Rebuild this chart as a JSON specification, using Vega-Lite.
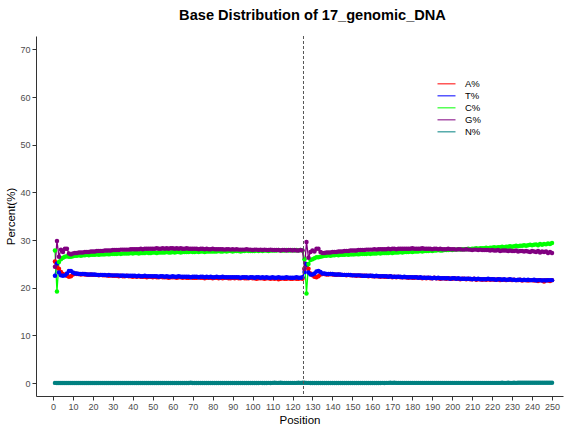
{
"$schema":"https://vega.github.io/schema/vega-lite/v6.json",
"autosize":{"type":"none"},
"padding":{"left":36,"top":36,"right":13,"bottom":36},
"width":527,"height":360,
"title":{"text":"Base Distribution of 17_genomic_DNA","fontSize":14.6,"fontWeight":"bold","anchor":"middle","offset":12.5,"color":"#000","dx":13},
"config":{"view":{"stroke":null},"font":"Liberation Sans",
"axis":{"grid":false,"domainColor":"#333","tickColor":"#333","labelColor":"#4d4d4d","labelFontSize":9,"titleFontSize":11.5,"titleFontWeight":"normal","titleColor":"#000","tickSize":4,"labelPadding":2,"labelOverlap":false}},
"datasets":{"bases":[
{"p":1,"b":"A%","v":25.5},{"p":2,"b":"A%","v":24.3},{"p":3,"b":"A%","v":24.0},{"p":4,"b":"A%","v":23.3},{"p":5,"b":"A%","v":22.9},{"p":6,"b":"A%","v":22.7},{"p":7,"b":"A%","v":22.5},{"p":8,"b":"A%","v":22.3},{"p":9,"b":"A%","v":22.4},{"p":10,"b":"A%","v":22.8},
{"p":11,"b":"A%","v":23.0},{"p":12,"b":"A%","v":22.9},{"p":13,"b":"A%","v":22.9},{"p":14,"b":"A%","v":22.8},{"p":15,"b":"A%","v":22.9},{"p":16,"b":"A%","v":22.8},{"p":17,"b":"A%","v":22.8},{"p":18,"b":"A%","v":22.7},{"p":19,"b":"A%","v":22.8},{"p":20,"b":"A%","v":22.7},
{"p":21,"b":"A%","v":22.7},{"p":22,"b":"A%","v":22.7},{"p":23,"b":"A%","v":22.6},{"p":24,"b":"A%","v":22.7},{"p":25,"b":"A%","v":22.6},{"p":26,"b":"A%","v":22.6},{"p":27,"b":"A%","v":22.6},{"p":28,"b":"A%","v":22.5},{"p":29,"b":"A%","v":22.6},{"p":30,"b":"A%","v":22.5},
{"p":31,"b":"A%","v":22.5},{"p":32,"b":"A%","v":22.5},{"p":33,"b":"A%","v":22.4},{"p":34,"b":"A%","v":22.5},{"p":35,"b":"A%","v":22.4},{"p":36,"b":"A%","v":22.4},{"p":37,"b":"A%","v":22.5},{"p":38,"b":"A%","v":22.4},{"p":39,"b":"A%","v":22.4},{"p":40,"b":"A%","v":22.3},
{"p":41,"b":"A%","v":22.4},{"p":42,"b":"A%","v":22.3},{"p":43,"b":"A%","v":22.4},{"p":44,"b":"A%","v":22.3},{"p":45,"b":"A%","v":22.3},{"p":46,"b":"A%","v":22.3},{"p":47,"b":"A%","v":22.2},{"p":48,"b":"A%","v":22.3},{"p":49,"b":"A%","v":22.3},{"p":50,"b":"A%","v":22.2},
{"p":51,"b":"A%","v":22.3},{"p":52,"b":"A%","v":22.2},{"p":53,"b":"A%","v":22.2},{"p":54,"b":"A%","v":22.3},{"p":55,"b":"A%","v":22.2},{"p":56,"b":"A%","v":22.2},{"p":57,"b":"A%","v":22.2},{"p":58,"b":"A%","v":22.1},{"p":59,"b":"A%","v":22.2},{"p":60,"b":"A%","v":22.2},
{"p":61,"b":"A%","v":22.2},{"p":62,"b":"A%","v":22.1},{"p":63,"b":"A%","v":22.2},{"p":64,"b":"A%","v":22.2},{"p":65,"b":"A%","v":22.1},{"p":66,"b":"A%","v":22.2},{"p":67,"b":"A%","v":22.1},{"p":68,"b":"A%","v":22.1},{"p":69,"b":"A%","v":22.2},{"p":70,"b":"A%","v":22.1},
{"p":71,"b":"A%","v":22.1},{"p":72,"b":"A%","v":22.1},{"p":73,"b":"A%","v":22.2},{"p":74,"b":"A%","v":22.1},{"p":75,"b":"A%","v":22.1},{"p":76,"b":"A%","v":22.0},{"p":77,"b":"A%","v":22.1},{"p":78,"b":"A%","v":22.1},{"p":79,"b":"A%","v":22.1},{"p":80,"b":"A%","v":22.0},
{"p":81,"b":"A%","v":22.1},{"p":82,"b":"A%","v":22.1},{"p":83,"b":"A%","v":22.0},{"p":84,"b":"A%","v":22.1},{"p":85,"b":"A%","v":22.0},{"p":86,"b":"A%","v":22.1},{"p":87,"b":"A%","v":22.1},{"p":88,"b":"A%","v":22.0},{"p":89,"b":"A%","v":22.0},{"p":90,"b":"A%","v":22.1},
{"p":91,"b":"A%","v":22.0},{"p":92,"b":"A%","v":22.1},{"p":93,"b":"A%","v":22.0},{"p":94,"b":"A%","v":22.0},{"p":95,"b":"A%","v":22.1},{"p":96,"b":"A%","v":22.0},{"p":97,"b":"A%","v":22.0},{"p":98,"b":"A%","v":22.0},{"p":99,"b":"A%","v":22.1},{"p":100,"b":"A%","v":22.0},
{"p":101,"b":"A%","v":22.0},{"p":102,"b":"A%","v":21.9},{"p":103,"b":"A%","v":22.0},{"p":104,"b":"A%","v":22.0},{"p":105,"b":"A%","v":22.0},{"p":106,"b":"A%","v":21.9},{"p":107,"b":"A%","v":22.0},{"p":108,"b":"A%","v":22.0},{"p":109,"b":"A%","v":21.9},{"p":110,"b":"A%","v":22.0},
{"p":111,"b":"A%","v":21.9},{"p":112,"b":"A%","v":22.0},{"p":113,"b":"A%","v":21.8},{"p":114,"b":"A%","v":21.9},{"p":115,"b":"A%","v":22.0},{"p":116,"b":"A%","v":21.9},{"p":117,"b":"A%","v":21.9},{"p":118,"b":"A%","v":22.0},{"p":119,"b":"A%","v":21.9},{"p":120,"b":"A%","v":21.9},
{"p":121,"b":"A%","v":22.0},{"p":122,"b":"A%","v":21.9},{"p":123,"b":"A%","v":21.9},{"p":124,"b":"A%","v":22.0},{"p":125,"b":"A%","v":21.9},
{"p":126,"b":"A%","v":24.0},{"p":127,"b":"A%","v":25.0},{"p":128,"b":"A%","v":24.0},{"p":129,"b":"A%","v":23.0},{"p":130,"b":"A%","v":22.6},{"p":131,"b":"A%","v":22.3},{"p":132,"b":"A%","v":22.2},{"p":133,"b":"A%","v":22.4},{"p":134,"b":"A%","v":22.8},{"p":135,"b":"A%","v":22.9},
{"p":136,"b":"A%","v":22.9},{"p":137,"b":"A%","v":22.8},{"p":138,"b":"A%","v":22.8},{"p":139,"b":"A%","v":22.9},{"p":140,"b":"A%","v":22.8},{"p":141,"b":"A%","v":22.8},{"p":142,"b":"A%","v":22.7},{"p":143,"b":"A%","v":22.8},{"p":144,"b":"A%","v":22.7},{"p":145,"b":"A%","v":22.7},
{"p":146,"b":"A%","v":22.7},{"p":147,"b":"A%","v":22.6},{"p":148,"b":"A%","v":22.7},{"p":149,"b":"A%","v":22.6},{"p":150,"b":"A%","v":22.6},{"p":151,"b":"A%","v":22.6},{"p":152,"b":"A%","v":22.5},{"p":153,"b":"A%","v":22.6},{"p":154,"b":"A%","v":22.5},{"p":155,"b":"A%","v":22.5},
{"p":156,"b":"A%","v":22.5},{"p":157,"b":"A%","v":22.5},{"p":158,"b":"A%","v":22.4},{"p":159,"b":"A%","v":22.5},{"p":160,"b":"A%","v":22.4},{"p":161,"b":"A%","v":22.4},{"p":162,"b":"A%","v":22.4},{"p":163,"b":"A%","v":22.4},{"p":164,"b":"A%","v":22.3},{"p":165,"b":"A%","v":22.4},
{"p":166,"b":"A%","v":22.3},{"p":167,"b":"A%","v":22.3},{"p":168,"b":"A%","v":22.3},{"p":169,"b":"A%","v":22.4},{"p":170,"b":"A%","v":22.2},{"p":171,"b":"A%","v":22.3},{"p":172,"b":"A%","v":22.2},{"p":173,"b":"A%","v":22.3},{"p":174,"b":"A%","v":22.2},{"p":175,"b":"A%","v":22.2},
{"p":176,"b":"A%","v":22.2},{"p":177,"b":"A%","v":22.2},{"p":178,"b":"A%","v":22.1},{"p":179,"b":"A%","v":22.2},{"p":180,"b":"A%","v":22.1},{"p":181,"b":"A%","v":22.1},{"p":182,"b":"A%","v":22.2},{"p":183,"b":"A%","v":22.1},{"p":184,"b":"A%","v":22.1},{"p":185,"b":"A%","v":22.0},
{"p":186,"b":"A%","v":22.1},{"p":187,"b":"A%","v":22.0},{"p":188,"b":"A%","v":22.1},{"p":189,"b":"A%","v":22.0},{"p":190,"b":"A%","v":22.0},{"p":191,"b":"A%","v":22.1},{"p":192,"b":"A%","v":22.0},{"p":193,"b":"A%","v":22.0},{"p":194,"b":"A%","v":21.9},{"p":195,"b":"A%","v":22.0},
{"p":196,"b":"A%","v":22.0},{"p":197,"b":"A%","v":21.9},{"p":198,"b":"A%","v":22.0},{"p":199,"b":"A%","v":21.9},{"p":200,"b":"A%","v":21.9},{"p":201,"b":"A%","v":22.0},{"p":202,"b":"A%","v":21.9},{"p":203,"b":"A%","v":21.9},{"p":204,"b":"A%","v":21.8},{"p":205,"b":"A%","v":21.9},
{"p":206,"b":"A%","v":21.9},{"p":207,"b":"A%","v":21.8},{"p":208,"b":"A%","v":21.9},{"p":209,"b":"A%","v":21.8},{"p":210,"b":"A%","v":21.8},{"p":211,"b":"A%","v":21.9},{"p":212,"b":"A%","v":21.7},{"p":213,"b":"A%","v":21.8},{"p":214,"b":"A%","v":21.8},{"p":215,"b":"A%","v":21.7},
{"p":216,"b":"A%","v":21.8},{"p":217,"b":"A%","v":21.7},{"p":218,"b":"A%","v":21.8},{"p":219,"b":"A%","v":21.7},{"p":220,"b":"A%","v":21.8},{"p":221,"b":"A%","v":21.7},{"p":222,"b":"A%","v":21.7},{"p":223,"b":"A%","v":21.8},{"p":224,"b":"A%","v":21.6},{"p":225,"b":"A%","v":21.7},
{"p":226,"b":"A%","v":21.7},{"p":227,"b":"A%","v":21.6},{"p":228,"b":"A%","v":21.7},{"p":229,"b":"A%","v":21.7},{"p":230,"b":"A%","v":21.6},{"p":231,"b":"A%","v":21.7},{"p":232,"b":"A%","v":21.6},{"p":233,"b":"A%","v":21.6},{"p":234,"b":"A%","v":21.7},{"p":235,"b":"A%","v":21.5},
{"p":236,"b":"A%","v":21.6},{"p":237,"b":"A%","v":21.6},{"p":238,"b":"A%","v":21.5},{"p":239,"b":"A%","v":21.6},{"p":240,"b":"A%","v":21.6},{"p":241,"b":"A%","v":21.5},{"p":242,"b":"A%","v":21.6},{"p":243,"b":"A%","v":21.4},{"p":244,"b":"A%","v":21.6},{"p":245,"b":"A%","v":21.5},
{"p":246,"b":"A%","v":21.3},{"p":247,"b":"A%","v":21.6},{"p":248,"b":"A%","v":21.5},{"p":249,"b":"A%","v":21.4},{"p":250,"b":"A%","v":21.6},
{"p":1,"b":"T%","v":22.5},{"p":2,"b":"T%","v":25.1},{"p":3,"b":"T%","v":23.2},{"p":4,"b":"T%","v":22.6},{"p":5,"b":"T%","v":22.5},{"p":6,"b":"T%","v":22.6},{"p":7,"b":"T%","v":23.0},{"p":8,"b":"T%","v":23.5},{"p":9,"b":"T%","v":23.5},{"p":10,"b":"T%","v":23.2},
{"p":11,"b":"T%","v":23.0},{"p":12,"b":"T%","v":23.0},{"p":13,"b":"T%","v":22.9},{"p":14,"b":"T%","v":22.9},{"p":15,"b":"T%","v":22.9},{"p":16,"b":"T%","v":22.9},{"p":17,"b":"T%","v":22.8},{"p":18,"b":"T%","v":22.8},{"p":19,"b":"T%","v":22.8},{"p":20,"b":"T%","v":22.8},
{"p":21,"b":"T%","v":22.8},{"p":22,"b":"T%","v":22.7},{"p":23,"b":"T%","v":22.7},{"p":24,"b":"T%","v":22.7},{"p":25,"b":"T%","v":22.7},{"p":26,"b":"T%","v":22.7},{"p":27,"b":"T%","v":22.6},{"p":28,"b":"T%","v":22.7},{"p":29,"b":"T%","v":22.6},{"p":30,"b":"T%","v":22.6},
{"p":31,"b":"T%","v":22.6},{"p":32,"b":"T%","v":22.6},{"p":33,"b":"T%","v":22.6},{"p":34,"b":"T%","v":22.5},{"p":35,"b":"T%","v":22.6},{"p":36,"b":"T%","v":22.5},{"p":37,"b":"T%","v":22.5},{"p":38,"b":"T%","v":22.5},{"p":39,"b":"T%","v":22.5},{"p":40,"b":"T%","v":22.5},
{"p":41,"b":"T%","v":22.5},{"p":42,"b":"T%","v":22.4},{"p":43,"b":"T%","v":22.5},{"p":44,"b":"T%","v":22.4},{"p":45,"b":"T%","v":22.4},{"p":46,"b":"T%","v":22.5},{"p":47,"b":"T%","v":22.4},{"p":48,"b":"T%","v":22.4},{"p":49,"b":"T%","v":22.4},{"p":50,"b":"T%","v":22.4},
{"p":51,"b":"T%","v":22.4},{"p":52,"b":"T%","v":22.4},{"p":53,"b":"T%","v":22.3},{"p":54,"b":"T%","v":22.4},{"p":55,"b":"T%","v":22.4},{"p":56,"b":"T%","v":22.3},{"p":57,"b":"T%","v":22.4},{"p":58,"b":"T%","v":22.3},{"p":59,"b":"T%","v":22.3},{"p":60,"b":"T%","v":22.4},
{"p":61,"b":"T%","v":22.3},{"p":62,"b":"T%","v":22.3},{"p":63,"b":"T%","v":22.4},{"p":64,"b":"T%","v":22.3},{"p":65,"b":"T%","v":22.3},{"p":66,"b":"T%","v":22.3},{"p":67,"b":"T%","v":22.3},{"p":68,"b":"T%","v":22.3},{"p":69,"b":"T%","v":22.2},{"p":70,"b":"T%","v":22.3},
{"p":71,"b":"T%","v":22.3},{"p":72,"b":"T%","v":22.3},{"p":73,"b":"T%","v":22.2},{"p":74,"b":"T%","v":22.3},{"p":75,"b":"T%","v":22.3},{"p":76,"b":"T%","v":22.2},{"p":77,"b":"T%","v":22.3},{"p":78,"b":"T%","v":22.2},{"p":79,"b":"T%","v":22.3},{"p":80,"b":"T%","v":22.2},
{"p":81,"b":"T%","v":22.2},{"p":82,"b":"T%","v":22.3},{"p":83,"b":"T%","v":22.2},{"p":84,"b":"T%","v":22.2},{"p":85,"b":"T%","v":22.3},{"p":86,"b":"T%","v":22.2},{"p":87,"b":"T%","v":22.2},{"p":88,"b":"T%","v":22.2},{"p":89,"b":"T%","v":22.2},{"p":90,"b":"T%","v":22.2},
{"p":91,"b":"T%","v":22.2},{"p":92,"b":"T%","v":22.2},{"p":93,"b":"T%","v":22.2},{"p":94,"b":"T%","v":22.1},{"p":95,"b":"T%","v":22.2},{"p":96,"b":"T%","v":22.2},{"p":97,"b":"T%","v":22.2},{"p":98,"b":"T%","v":22.1},{"p":99,"b":"T%","v":22.2},{"p":100,"b":"T%","v":22.2},
{"p":101,"b":"T%","v":22.1},{"p":102,"b":"T%","v":22.2},{"p":103,"b":"T%","v":22.2},{"p":104,"b":"T%","v":22.1},{"p":105,"b":"T%","v":22.2},{"p":106,"b":"T%","v":22.1},{"p":107,"b":"T%","v":22.2},{"p":108,"b":"T%","v":22.1},{"p":109,"b":"T%","v":22.1},{"p":110,"b":"T%","v":22.2},
{"p":111,"b":"T%","v":22.1},{"p":112,"b":"T%","v":22.1},{"p":113,"b":"T%","v":22.2},{"p":114,"b":"T%","v":22.1},{"p":115,"b":"T%","v":22.1},{"p":116,"b":"T%","v":22.1},{"p":117,"b":"T%","v":22.2},{"p":118,"b":"T%","v":22.1},{"p":119,"b":"T%","v":22.1},{"p":120,"b":"T%","v":22.1},
{"p":121,"b":"T%","v":22.1},{"p":122,"b":"T%","v":22.2},{"p":123,"b":"T%","v":22.1},{"p":124,"b":"T%","v":22.1},{"p":125,"b":"T%","v":22.2},
{"p":126,"b":"T%","v":23.3},{"p":127,"b":"T%","v":25.0},{"p":128,"b":"T%","v":23.2},{"p":129,"b":"T%","v":22.8},{"p":130,"b":"T%","v":22.8},{"p":131,"b":"T%","v":23.0},{"p":132,"b":"T%","v":23.4},{"p":133,"b":"T%","v":23.5},{"p":134,"b":"T%","v":23.3},{"p":135,"b":"T%","v":23.0},
{"p":136,"b":"T%","v":23.0},{"p":137,"b":"T%","v":22.9},{"p":138,"b":"T%","v":22.9},{"p":139,"b":"T%","v":22.9},{"p":140,"b":"T%","v":22.9},{"p":141,"b":"T%","v":22.8},{"p":142,"b":"T%","v":22.8},{"p":143,"b":"T%","v":22.8},{"p":144,"b":"T%","v":22.8},{"p":145,"b":"T%","v":22.7},
{"p":146,"b":"T%","v":22.7},{"p":147,"b":"T%","v":22.7},{"p":148,"b":"T%","v":22.7},{"p":149,"b":"T%","v":22.7},{"p":150,"b":"T%","v":22.6},{"p":151,"b":"T%","v":22.6},{"p":152,"b":"T%","v":22.6},{"p":153,"b":"T%","v":22.6},{"p":154,"b":"T%","v":22.6},{"p":155,"b":"T%","v":22.5},
{"p":156,"b":"T%","v":22.5},{"p":157,"b":"T%","v":22.5},{"p":158,"b":"T%","v":22.5},{"p":159,"b":"T%","v":22.5},{"p":160,"b":"T%","v":22.5},{"p":161,"b":"T%","v":22.4},{"p":162,"b":"T%","v":22.5},{"p":163,"b":"T%","v":22.4},{"p":164,"b":"T%","v":22.4},{"p":165,"b":"T%","v":22.4},
{"p":166,"b":"T%","v":22.4},{"p":167,"b":"T%","v":22.4},{"p":168,"b":"T%","v":22.3},{"p":169,"b":"T%","v":22.4},{"p":170,"b":"T%","v":22.3},{"p":171,"b":"T%","v":22.3},{"p":172,"b":"T%","v":22.3},{"p":173,"b":"T%","v":22.3},{"p":174,"b":"T%","v":22.3},{"p":175,"b":"T%","v":22.2},
{"p":176,"b":"T%","v":22.3},{"p":177,"b":"T%","v":22.2},{"p":178,"b":"T%","v":22.2},{"p":179,"b":"T%","v":22.2},{"p":180,"b":"T%","v":22.2},{"p":181,"b":"T%","v":22.2},{"p":182,"b":"T%","v":22.2},{"p":183,"b":"T%","v":22.1},{"p":184,"b":"T%","v":22.2},{"p":185,"b":"T%","v":22.1},
{"p":186,"b":"T%","v":22.1},{"p":187,"b":"T%","v":22.1},{"p":188,"b":"T%","v":22.1},{"p":189,"b":"T%","v":22.1},{"p":190,"b":"T%","v":22.0},{"p":191,"b":"T%","v":22.1},{"p":192,"b":"T%","v":22.0},{"p":193,"b":"T%","v":22.1},{"p":194,"b":"T%","v":22.0},{"p":195,"b":"T%","v":22.0},
{"p":196,"b":"T%","v":22.0},{"p":197,"b":"T%","v":22.0},{"p":198,"b":"T%","v":22.0},{"p":199,"b":"T%","v":21.9},{"p":200,"b":"T%","v":22.0},{"p":201,"b":"T%","v":22.0},{"p":202,"b":"T%","v":21.9},{"p":203,"b":"T%","v":22.0},{"p":204,"b":"T%","v":21.9},{"p":205,"b":"T%","v":21.9},
{"p":206,"b":"T%","v":21.9},{"p":207,"b":"T%","v":21.9},{"p":208,"b":"T%","v":21.9},{"p":209,"b":"T%","v":21.9},{"p":210,"b":"T%","v":21.8},{"p":211,"b":"T%","v":21.9},{"p":212,"b":"T%","v":21.8},{"p":213,"b":"T%","v":21.9},{"p":214,"b":"T%","v":21.8},{"p":215,"b":"T%","v":21.8},
{"p":216,"b":"T%","v":21.8},{"p":217,"b":"T%","v":21.8},{"p":218,"b":"T%","v":21.9},{"p":219,"b":"T%","v":21.8},{"p":220,"b":"T%","v":21.8},{"p":221,"b":"T%","v":21.8},{"p":222,"b":"T%","v":21.7},{"p":223,"b":"T%","v":21.8},{"p":224,"b":"T%","v":21.8},{"p":225,"b":"T%","v":21.7},
{"p":226,"b":"T%","v":21.8},{"p":227,"b":"T%","v":21.7},{"p":228,"b":"T%","v":21.7},{"p":229,"b":"T%","v":21.8},{"p":230,"b":"T%","v":21.7},{"p":231,"b":"T%","v":21.7},{"p":232,"b":"T%","v":21.6},{"p":233,"b":"T%","v":21.7},{"p":234,"b":"T%","v":21.7},{"p":235,"b":"T%","v":21.6},
{"p":236,"b":"T%","v":21.7},{"p":237,"b":"T%","v":21.6},{"p":238,"b":"T%","v":21.7},{"p":239,"b":"T%","v":21.6},{"p":240,"b":"T%","v":21.6},{"p":241,"b":"T%","v":21.7},{"p":242,"b":"T%","v":21.5},{"p":243,"b":"T%","v":21.6},{"p":244,"b":"T%","v":21.6},{"p":245,"b":"T%","v":21.5},
{"p":246,"b":"T%","v":21.6},{"p":247,"b":"T%","v":21.5},{"p":248,"b":"T%","v":21.6},{"p":249,"b":"T%","v":21.6},{"p":250,"b":"T%","v":21.6},
{"p":1,"b":"C%","v":27.8},{"p":2,"b":"C%","v":19.2},{"p":3,"b":"C%","v":25.4},{"p":4,"b":"C%","v":26.0},{"p":5,"b":"C%","v":26.3},{"p":6,"b":"C%","v":26.5},{"p":7,"b":"C%","v":26.6},{"p":8,"b":"C%","v":26.5},{"p":9,"b":"C%","v":26.5},{"p":10,"b":"C%","v":26.6},
{"p":11,"b":"C%","v":26.7},{"p":12,"b":"C%","v":26.7},{"p":13,"b":"C%","v":26.8},{"p":14,"b":"C%","v":26.7},{"p":15,"b":"C%","v":26.8},{"p":16,"b":"C%","v":26.8},{"p":17,"b":"C%","v":26.9},{"p":18,"b":"C%","v":26.8},{"p":19,"b":"C%","v":26.9},{"p":20,"b":"C%","v":26.9},
{"p":21,"b":"C%","v":26.9},{"p":22,"b":"C%","v":27.0},{"p":23,"b":"C%","v":26.9},{"p":24,"b":"C%","v":27.0},{"p":25,"b":"C%","v":27.0},{"p":26,"b":"C%","v":27.0},{"p":27,"b":"C%","v":27.1},{"p":28,"b":"C%","v":27.0},{"p":29,"b":"C%","v":27.1},{"p":30,"b":"C%","v":27.1},
{"p":31,"b":"C%","v":27.1},{"p":32,"b":"C%","v":27.1},{"p":33,"b":"C%","v":27.2},{"p":34,"b":"C%","v":27.1},{"p":35,"b":"C%","v":27.2},{"p":36,"b":"C%","v":27.2},{"p":37,"b":"C%","v":27.2},{"p":38,"b":"C%","v":27.2},{"p":39,"b":"C%","v":27.3},{"p":40,"b":"C%","v":27.2},
{"p":41,"b":"C%","v":27.3},{"p":42,"b":"C%","v":27.3},{"p":43,"b":"C%","v":27.2},{"p":44,"b":"C%","v":27.3},{"p":45,"b":"C%","v":27.3},{"p":46,"b":"C%","v":27.3},{"p":47,"b":"C%","v":27.4},{"p":48,"b":"C%","v":27.3},{"p":49,"b":"C%","v":27.3},{"p":50,"b":"C%","v":27.4},
{"p":51,"b":"C%","v":27.4},{"p":52,"b":"C%","v":27.3},{"p":53,"b":"C%","v":27.4},{"p":54,"b":"C%","v":27.4},{"p":55,"b":"C%","v":27.4},{"p":56,"b":"C%","v":27.4},{"p":57,"b":"C%","v":27.5},{"p":58,"b":"C%","v":27.4},{"p":59,"b":"C%","v":27.4},{"p":60,"b":"C%","v":27.5},
{"p":61,"b":"C%","v":27.4},{"p":62,"b":"C%","v":27.5},{"p":63,"b":"C%","v":27.5},{"p":64,"b":"C%","v":27.4},{"p":65,"b":"C%","v":27.5},{"p":66,"b":"C%","v":27.5},{"p":67,"b":"C%","v":27.5},{"p":68,"b":"C%","v":27.5},{"p":69,"b":"C%","v":27.6},{"p":70,"b":"C%","v":27.5},
{"p":71,"b":"C%","v":27.5},{"p":72,"b":"C%","v":27.6},{"p":73,"b":"C%","v":27.5},{"p":74,"b":"C%","v":27.6},{"p":75,"b":"C%","v":27.6},{"p":76,"b":"C%","v":27.5},{"p":77,"b":"C%","v":27.6},{"p":78,"b":"C%","v":27.6},{"p":79,"b":"C%","v":27.6},{"p":80,"b":"C%","v":27.6},
{"p":81,"b":"C%","v":27.6},{"p":82,"b":"C%","v":27.6},{"p":83,"b":"C%","v":27.7},{"p":84,"b":"C%","v":27.6},{"p":85,"b":"C%","v":27.6},{"p":86,"b":"C%","v":27.7},{"p":87,"b":"C%","v":27.6},{"p":88,"b":"C%","v":27.7},{"p":89,"b":"C%","v":27.7},{"p":90,"b":"C%","v":27.6},
{"p":91,"b":"C%","v":27.7},{"p":92,"b":"C%","v":27.7},{"p":93,"b":"C%","v":27.7},{"p":94,"b":"C%","v":27.6},{"p":95,"b":"C%","v":27.7},{"p":96,"b":"C%","v":27.7},{"p":97,"b":"C%","v":27.8},{"p":98,"b":"C%","v":27.7},{"p":99,"b":"C%","v":27.7},{"p":100,"b":"C%","v":27.7},
{"p":101,"b":"C%","v":27.7},{"p":102,"b":"C%","v":27.8},{"p":103,"b":"C%","v":27.7},{"p":104,"b":"C%","v":27.8},{"p":105,"b":"C%","v":27.7},{"p":106,"b":"C%","v":27.8},{"p":107,"b":"C%","v":27.8},{"p":108,"b":"C%","v":27.7},{"p":109,"b":"C%","v":27.8},{"p":110,"b":"C%","v":27.8},
{"p":111,"b":"C%","v":27.8},{"p":112,"b":"C%","v":27.8},{"p":113,"b":"C%","v":27.9},{"p":114,"b":"C%","v":27.8},{"p":115,"b":"C%","v":27.8},{"p":116,"b":"C%","v":27.8},{"p":117,"b":"C%","v":27.9},{"p":118,"b":"C%","v":27.8},{"p":119,"b":"C%","v":27.8},{"p":120,"b":"C%","v":27.9},
{"p":121,"b":"C%","v":27.8},{"p":122,"b":"C%","v":27.9},{"p":123,"b":"C%","v":27.8},{"p":124,"b":"C%","v":27.9},{"p":125,"b":"C%","v":27.8},
{"p":126,"b":"C%","v":26.0},{"p":127,"b":"C%","v":18.8},{"p":128,"b":"C%","v":25.0},{"p":129,"b":"C%","v":25.8},{"p":130,"b":"C%","v":26.0},{"p":131,"b":"C%","v":26.2},{"p":132,"b":"C%","v":26.4},{"p":133,"b":"C%","v":26.4},{"p":134,"b":"C%","v":26.5},{"p":135,"b":"C%","v":26.6},
{"p":136,"b":"C%","v":26.7},{"p":137,"b":"C%","v":26.7},{"p":138,"b":"C%","v":26.8},{"p":139,"b":"C%","v":26.7},{"p":140,"b":"C%","v":26.8},{"p":141,"b":"C%","v":26.8},{"p":142,"b":"C%","v":26.9},{"p":143,"b":"C%","v":26.8},{"p":144,"b":"C%","v":26.9},{"p":145,"b":"C%","v":26.9},
{"p":146,"b":"C%","v":26.9},{"p":147,"b":"C%","v":27.0},{"p":148,"b":"C%","v":26.9},{"p":149,"b":"C%","v":27.0},{"p":150,"b":"C%","v":27.0},{"p":151,"b":"C%","v":27.0},{"p":152,"b":"C%","v":27.1},{"p":153,"b":"C%","v":27.0},{"p":154,"b":"C%","v":27.1},{"p":155,"b":"C%","v":27.1},
{"p":156,"b":"C%","v":27.1},{"p":157,"b":"C%","v":27.1},{"p":158,"b":"C%","v":27.2},{"p":159,"b":"C%","v":27.1},{"p":160,"b":"C%","v":27.2},{"p":161,"b":"C%","v":27.2},{"p":162,"b":"C%","v":27.2},{"p":163,"b":"C%","v":27.3},{"p":164,"b":"C%","v":27.2},{"p":165,"b":"C%","v":27.3},
{"p":166,"b":"C%","v":27.3},{"p":167,"b":"C%","v":27.3},{"p":168,"b":"C%","v":27.3},{"p":169,"b":"C%","v":27.4},{"p":170,"b":"C%","v":27.3},{"p":171,"b":"C%","v":27.4},{"p":172,"b":"C%","v":27.4},{"p":173,"b":"C%","v":27.4},{"p":174,"b":"C%","v":27.5},{"p":175,"b":"C%","v":27.4},
{"p":176,"b":"C%","v":27.5},{"p":177,"b":"C%","v":27.5},{"p":178,"b":"C%","v":27.5},{"p":179,"b":"C%","v":27.6},{"p":180,"b":"C%","v":27.5},{"p":181,"b":"C%","v":27.6},{"p":182,"b":"C%","v":27.6},{"p":183,"b":"C%","v":27.6},{"p":184,"b":"C%","v":27.7},{"p":185,"b":"C%","v":27.6},
{"p":186,"b":"C%","v":27.7},{"p":187,"b":"C%","v":27.7},{"p":188,"b":"C%","v":27.7},{"p":189,"b":"C%","v":27.8},{"p":190,"b":"C%","v":27.7},{"p":191,"b":"C%","v":27.8},{"p":192,"b":"C%","v":27.8},{"p":193,"b":"C%","v":27.9},{"p":194,"b":"C%","v":27.8},{"p":195,"b":"C%","v":27.8},
{"p":196,"b":"C%","v":27.9},{"p":197,"b":"C%","v":27.9},{"p":198,"b":"C%","v":27.9},{"p":199,"b":"C%","v":28.0},{"p":200,"b":"C%","v":27.9},{"p":201,"b":"C%","v":28.0},{"p":202,"b":"C%","v":28.0},{"p":203,"b":"C%","v":28.1},{"p":204,"b":"C%","v":28.0},{"p":205,"b":"C%","v":28.1},
{"p":206,"b":"C%","v":28.1},{"p":207,"b":"C%","v":28.1},{"p":208,"b":"C%","v":28.2},{"p":209,"b":"C%","v":28.1},{"p":210,"b":"C%","v":28.2},{"p":211,"b":"C%","v":28.2},{"p":212,"b":"C%","v":28.3},{"p":213,"b":"C%","v":28.2},{"p":214,"b":"C%","v":28.3},{"p":215,"b":"C%","v":28.3},
{"p":216,"b":"C%","v":28.3},{"p":217,"b":"C%","v":28.4},{"p":218,"b":"C%","v":28.3},{"p":219,"b":"C%","v":28.4},{"p":220,"b":"C%","v":28.4},{"p":221,"b":"C%","v":28.5},{"p":222,"b":"C%","v":28.4},{"p":223,"b":"C%","v":28.5},{"p":224,"b":"C%","v":28.5},{"p":225,"b":"C%","v":28.6},
{"p":226,"b":"C%","v":28.5},{"p":227,"b":"C%","v":28.6},{"p":228,"b":"C%","v":28.6},{"p":229,"b":"C%","v":28.7},{"p":230,"b":"C%","v":28.6},{"p":231,"b":"C%","v":28.7},{"p":232,"b":"C%","v":28.8},{"p":233,"b":"C%","v":28.7},{"p":234,"b":"C%","v":28.8},{"p":235,"b":"C%","v":28.8},
{"p":236,"b":"C%","v":28.9},{"p":237,"b":"C%","v":28.8},{"p":238,"b":"C%","v":28.9},{"p":239,"b":"C%","v":29.0},{"p":240,"b":"C%","v":28.9},{"p":241,"b":"C%","v":29.0},{"p":242,"b":"C%","v":29.1},{"p":243,"b":"C%","v":28.9},{"p":244,"b":"C%","v":29.2},{"p":245,"b":"C%","v":29.0},
{"p":246,"b":"C%","v":29.2},{"p":247,"b":"C%","v":29.1},{"p":248,"b":"C%","v":29.3},{"p":249,"b":"C%","v":29.2},{"p":250,"b":"C%","v":29.4},
{"p":1,"b":"G%","v":24.4},{"p":2,"b":"G%","v":29.8},{"p":3,"b":"G%","v":26.5},{"p":4,"b":"G%","v":28.0},{"p":5,"b":"G%","v":27.5},{"p":6,"b":"G%","v":28.2},{"p":7,"b":"G%","v":28.2},{"p":8,"b":"G%","v":27.2},{"p":9,"b":"G%","v":27.0},{"p":10,"b":"G%","v":27.2},
{"p":11,"b":"G%","v":27.3},{"p":12,"b":"G%","v":27.3},{"p":13,"b":"G%","v":27.4},{"p":14,"b":"G%","v":27.4},{"p":15,"b":"G%","v":27.4},{"p":16,"b":"G%","v":27.5},{"p":17,"b":"G%","v":27.5},{"p":18,"b":"G%","v":27.5},{"p":19,"b":"G%","v":27.6},{"p":20,"b":"G%","v":27.6},
{"p":21,"b":"G%","v":27.6},{"p":22,"b":"G%","v":27.7},{"p":23,"b":"G%","v":27.7},{"p":24,"b":"G%","v":27.7},{"p":25,"b":"G%","v":27.7},{"p":26,"b":"G%","v":27.8},{"p":27,"b":"G%","v":27.8},{"p":28,"b":"G%","v":27.8},{"p":29,"b":"G%","v":27.8},{"p":30,"b":"G%","v":27.9},
{"p":31,"b":"G%","v":27.9},{"p":32,"b":"G%","v":27.9},{"p":33,"b":"G%","v":27.9},{"p":34,"b":"G%","v":28.0},{"p":35,"b":"G%","v":28.0},{"p":36,"b":"G%","v":28.0},{"p":37,"b":"G%","v":28.0},{"p":38,"b":"G%","v":28.0},{"p":39,"b":"G%","v":28.1},{"p":40,"b":"G%","v":28.1},
{"p":41,"b":"G%","v":28.1},{"p":42,"b":"G%","v":28.1},{"p":43,"b":"G%","v":28.1},{"p":44,"b":"G%","v":28.2},{"p":45,"b":"G%","v":28.1},{"p":46,"b":"G%","v":28.2},{"p":47,"b":"G%","v":28.2},{"p":48,"b":"G%","v":28.2},{"p":49,"b":"G%","v":28.2},{"p":50,"b":"G%","v":28.2},
{"p":51,"b":"G%","v":28.2},{"p":52,"b":"G%","v":28.3},{"p":53,"b":"G%","v":28.2},{"p":54,"b":"G%","v":28.2},{"p":55,"b":"G%","v":28.3},{"p":56,"b":"G%","v":28.2},{"p":57,"b":"G%","v":28.3},{"p":58,"b":"G%","v":28.2},{"p":59,"b":"G%","v":28.3},{"p":60,"b":"G%","v":28.3},
{"p":61,"b":"G%","v":28.2},{"p":62,"b":"G%","v":28.3},{"p":63,"b":"G%","v":28.2},{"p":64,"b":"G%","v":28.3},{"p":65,"b":"G%","v":28.2},{"p":66,"b":"G%","v":28.2},{"p":67,"b":"G%","v":28.3},{"p":68,"b":"G%","v":28.2},{"p":69,"b":"G%","v":28.2},{"p":70,"b":"G%","v":28.2},
{"p":71,"b":"G%","v":28.2},{"p":72,"b":"G%","v":28.2},{"p":73,"b":"G%","v":28.1},{"p":74,"b":"G%","v":28.2},{"p":75,"b":"G%","v":28.2},{"p":76,"b":"G%","v":28.1},{"p":77,"b":"G%","v":28.2},{"p":78,"b":"G%","v":28.1},{"p":79,"b":"G%","v":28.1},{"p":80,"b":"G%","v":28.2},
{"p":81,"b":"G%","v":28.1},{"p":82,"b":"G%","v":28.1},{"p":83,"b":"G%","v":28.1},{"p":84,"b":"G%","v":28.1},{"p":85,"b":"G%","v":28.1},{"p":86,"b":"G%","v":28.0},{"p":87,"b":"G%","v":28.1},{"p":88,"b":"G%","v":28.1},{"p":89,"b":"G%","v":28.0},{"p":90,"b":"G%","v":28.1},
{"p":91,"b":"G%","v":28.0},{"p":92,"b":"G%","v":28.1},{"p":93,"b":"G%","v":28.0},{"p":94,"b":"G%","v":28.0},{"p":95,"b":"G%","v":28.0},{"p":96,"b":"G%","v":28.0},{"p":97,"b":"G%","v":28.1},{"p":98,"b":"G%","v":28.0},{"p":99,"b":"G%","v":28.0},{"p":100,"b":"G%","v":27.9},
{"p":101,"b":"G%","v":28.0},{"p":102,"b":"G%","v":28.0},{"p":103,"b":"G%","v":27.9},{"p":104,"b":"G%","v":28.0},{"p":105,"b":"G%","v":27.9},{"p":106,"b":"G%","v":28.0},{"p":107,"b":"G%","v":27.9},{"p":108,"b":"G%","v":27.9},{"p":109,"b":"G%","v":28.0},{"p":110,"b":"G%","v":27.9},
{"p":111,"b":"G%","v":27.9},{"p":112,"b":"G%","v":27.9},{"p":113,"b":"G%","v":27.9},{"p":114,"b":"G%","v":27.8},{"p":115,"b":"G%","v":27.9},{"p":116,"b":"G%","v":27.9},{"p":117,"b":"G%","v":27.8},{"p":118,"b":"G%","v":27.9},{"p":119,"b":"G%","v":27.9},{"p":120,"b":"G%","v":27.8},
{"p":121,"b":"G%","v":27.9},{"p":122,"b":"G%","v":27.8},{"p":123,"b":"G%","v":27.8},{"p":124,"b":"G%","v":27.9},{"p":125,"b":"G%","v":27.8},
{"p":126,"b":"G%","v":24.0},{"p":127,"b":"G%","v":29.6},{"p":128,"b":"G%","v":26.3},{"p":129,"b":"G%","v":27.5},{"p":130,"b":"G%","v":27.8},{"p":131,"b":"G%","v":27.6},{"p":132,"b":"G%","v":28.2},{"p":133,"b":"G%","v":28.2},{"p":134,"b":"G%","v":27.5},{"p":135,"b":"G%","v":27.3},
{"p":136,"b":"G%","v":27.3},{"p":137,"b":"G%","v":27.4},{"p":138,"b":"G%","v":27.4},{"p":139,"b":"G%","v":27.4},{"p":140,"b":"G%","v":27.5},{"p":141,"b":"G%","v":27.5},{"p":142,"b":"G%","v":27.5},{"p":143,"b":"G%","v":27.6},{"p":144,"b":"G%","v":27.6},{"p":145,"b":"G%","v":27.6},
{"p":146,"b":"G%","v":27.7},{"p":147,"b":"G%","v":27.7},{"p":148,"b":"G%","v":27.7},{"p":149,"b":"G%","v":27.8},{"p":150,"b":"G%","v":27.8},{"p":151,"b":"G%","v":27.8},{"p":152,"b":"G%","v":27.8},{"p":153,"b":"G%","v":27.9},{"p":154,"b":"G%","v":27.9},{"p":155,"b":"G%","v":27.9},
{"p":156,"b":"G%","v":27.9},{"p":157,"b":"G%","v":28.0},{"p":158,"b":"G%","v":28.0},{"p":159,"b":"G%","v":28.0},{"p":160,"b":"G%","v":28.0},{"p":161,"b":"G%","v":28.1},{"p":162,"b":"G%","v":28.0},{"p":163,"b":"G%","v":28.1},{"p":164,"b":"G%","v":28.1},{"p":165,"b":"G%","v":28.1},
{"p":166,"b":"G%","v":28.1},{"p":167,"b":"G%","v":28.1},{"p":168,"b":"G%","v":28.2},{"p":169,"b":"G%","v":28.1},{"p":170,"b":"G%","v":28.2},{"p":171,"b":"G%","v":28.2},{"p":172,"b":"G%","v":28.1},{"p":173,"b":"G%","v":28.2},{"p":174,"b":"G%","v":28.2},{"p":175,"b":"G%","v":28.2},
{"p":176,"b":"G%","v":28.2},{"p":177,"b":"G%","v":28.2},{"p":178,"b":"G%","v":28.2},{"p":179,"b":"G%","v":28.2},{"p":180,"b":"G%","v":28.3},{"p":181,"b":"G%","v":28.2},{"p":182,"b":"G%","v":28.2},{"p":183,"b":"G%","v":28.2},{"p":184,"b":"G%","v":28.2},{"p":185,"b":"G%","v":28.3},
{"p":186,"b":"G%","v":28.2},{"p":187,"b":"G%","v":28.2},{"p":188,"b":"G%","v":28.2},{"p":189,"b":"G%","v":28.2},{"p":190,"b":"G%","v":28.1},{"p":191,"b":"G%","v":28.2},{"p":192,"b":"G%","v":28.2},{"p":193,"b":"G%","v":28.1},{"p":194,"b":"G%","v":28.2},{"p":195,"b":"G%","v":28.1},
{"p":196,"b":"G%","v":28.1},{"p":197,"b":"G%","v":28.1},{"p":198,"b":"G%","v":28.2},{"p":199,"b":"G%","v":28.1},{"p":200,"b":"G%","v":28.1},{"p":201,"b":"G%","v":28.1},{"p":202,"b":"G%","v":28.0},{"p":203,"b":"G%","v":28.1},{"p":204,"b":"G%","v":28.1},{"p":205,"b":"G%","v":28.0},
{"p":206,"b":"G%","v":28.0},{"p":207,"b":"G%","v":28.1},{"p":208,"b":"G%","v":28.0},{"p":209,"b":"G%","v":28.0},{"p":210,"b":"G%","v":27.9},{"p":211,"b":"G%","v":28.0},{"p":212,"b":"G%","v":28.0},{"p":213,"b":"G%","v":27.9},{"p":214,"b":"G%","v":28.0},{"p":215,"b":"G%","v":27.9},
{"p":216,"b":"G%","v":27.9},{"p":217,"b":"G%","v":27.9},{"p":218,"b":"G%","v":27.9},{"p":219,"b":"G%","v":27.8},{"p":220,"b":"G%","v":27.9},{"p":221,"b":"G%","v":27.8},{"p":222,"b":"G%","v":27.8},{"p":223,"b":"G%","v":27.9},{"p":224,"b":"G%","v":27.7},{"p":225,"b":"G%","v":27.8},
{"p":226,"b":"G%","v":27.8},{"p":227,"b":"G%","v":27.8},{"p":228,"b":"G%","v":27.7},{"p":229,"b":"G%","v":27.8},{"p":230,"b":"G%","v":27.7},{"p":231,"b":"G%","v":27.7},{"p":232,"b":"G%","v":27.8},{"p":233,"b":"G%","v":27.6},{"p":234,"b":"G%","v":27.7},{"p":235,"b":"G%","v":27.7},
{"p":236,"b":"G%","v":27.6},{"p":237,"b":"G%","v":27.7},{"p":238,"b":"G%","v":27.6},{"p":239,"b":"G%","v":27.5},{"p":240,"b":"G%","v":27.7},{"p":241,"b":"G%","v":27.6},{"p":242,"b":"G%","v":27.5},{"p":243,"b":"G%","v":27.7},{"p":244,"b":"G%","v":27.4},{"p":245,"b":"G%","v":27.6},
{"p":246,"b":"G%","v":27.5},{"p":247,"b":"G%","v":27.6},{"p":248,"b":"G%","v":27.3},{"p":249,"b":"G%","v":27.5},{"p":250,"b":"G%","v":27.3},
{"p":1,"b":"N%","v":0.05},{"p":2,"b":"N%","v":0.04},{"p":3,"b":"N%","v":0.04},{"p":4,"b":"N%","v":0.03},{"p":5,"b":"N%","v":0.03},{"p":6,"b":"N%","v":0.03},{"p":7,"b":"N%","v":0.02},{"p":8,"b":"N%","v":0.03},{"p":9,"b":"N%","v":0.03},{"p":10,"b":"N%","v":0.02},
{"p":11,"b":"N%","v":0.03},{"p":12,"b":"N%","v":0.02},{"p":13,"b":"N%","v":0.03},{"p":14,"b":"N%","v":0.03},{"p":15,"b":"N%","v":0.02},{"p":16,"b":"N%","v":0.03},{"p":17,"b":"N%","v":0.03},{"p":18,"b":"N%","v":0.02},{"p":19,"b":"N%","v":0.03},{"p":20,"b":"N%","v":0.03},
{"p":21,"b":"N%","v":0.03},{"p":22,"b":"N%","v":0.02},{"p":23,"b":"N%","v":0.03},{"p":24,"b":"N%","v":0.03},{"p":25,"b":"N%","v":0.03},{"p":26,"b":"N%","v":0.03},{"p":27,"b":"N%","v":0.02},{"p":28,"b":"N%","v":0.03},{"p":29,"b":"N%","v":0.03},{"p":30,"b":"N%","v":0.03},
{"p":31,"b":"N%","v":0.03},{"p":32,"b":"N%","v":0.03},{"p":33,"b":"N%","v":0.02},{"p":34,"b":"N%","v":0.03},{"p":35,"b":"N%","v":0.03},{"p":36,"b":"N%","v":0.03},{"p":37,"b":"N%","v":0.03},{"p":38,"b":"N%","v":0.03},{"p":39,"b":"N%","v":0.03},{"p":40,"b":"N%","v":0.03},
{"p":41,"b":"N%","v":0.03},{"p":42,"b":"N%","v":0.03},{"p":43,"b":"N%","v":0.03},{"p":44,"b":"N%","v":0.03},{"p":45,"b":"N%","v":0.03},{"p":46,"b":"N%","v":0.03},{"p":47,"b":"N%","v":0.03},{"p":48,"b":"N%","v":0.04},{"p":49,"b":"N%","v":0.03},{"p":50,"b":"N%","v":0.03},
{"p":51,"b":"N%","v":0.03},{"p":52,"b":"N%","v":0.03},{"p":53,"b":"N%","v":0.03},{"p":54,"b":"N%","v":0.03},{"p":55,"b":"N%","v":0.04},{"p":56,"b":"N%","v":0.03},{"p":57,"b":"N%","v":0.03},{"p":58,"b":"N%","v":0.03},{"p":59,"b":"N%","v":0.03},{"p":60,"b":"N%","v":0.04},
{"p":61,"b":"N%","v":0.03},{"p":62,"b":"N%","v":0.03},{"p":63,"b":"N%","v":0.04},{"p":64,"b":"N%","v":0.03},{"p":65,"b":"N%","v":0.03},{"p":66,"b":"N%","v":0.04},{"p":67,"b":"N%","v":0.03},{"p":68,"b":"N%","v":0.04},{"p":69,"b":"N%","v":0.06},{"p":70,"b":"N%","v":0.04},
{"p":71,"b":"N%","v":0.03},{"p":72,"b":"N%","v":0.04},{"p":73,"b":"N%","v":0.04},{"p":74,"b":"N%","v":0.03},{"p":75,"b":"N%","v":0.04},{"p":76,"b":"N%","v":0.04},{"p":77,"b":"N%","v":0.04},{"p":78,"b":"N%","v":0.03},{"p":79,"b":"N%","v":0.04},{"p":80,"b":"N%","v":0.04},
{"p":81,"b":"N%","v":0.04},{"p":82,"b":"N%","v":0.04},{"p":83,"b":"N%","v":0.03},{"p":84,"b":"N%","v":0.04},{"p":85,"b":"N%","v":0.04},{"p":86,"b":"N%","v":0.04},{"p":87,"b":"N%","v":0.04},{"p":88,"b":"N%","v":0.04},{"p":89,"b":"N%","v":0.04},{"p":90,"b":"N%","v":0.04},
{"p":91,"b":"N%","v":0.04},{"p":92,"b":"N%","v":0.04},{"p":93,"b":"N%","v":0.04},{"p":94,"b":"N%","v":0.04},{"p":95,"b":"N%","v":0.04},{"p":96,"b":"N%","v":0.04},{"p":97,"b":"N%","v":0.04},{"p":98,"b":"N%","v":0.04},{"p":99,"b":"N%","v":0.04},{"p":100,"b":"N%","v":0.04},
{"p":101,"b":"N%","v":0.04},{"p":102,"b":"N%","v":0.04},{"p":103,"b":"N%","v":0.04},{"p":104,"b":"N%","v":0.05},{"p":105,"b":"N%","v":0.04},{"p":106,"b":"N%","v":0.04},{"p":107,"b":"N%","v":0.04},{"p":108,"b":"N%","v":0.05},{"p":109,"b":"N%","v":0.04},{"p":110,"b":"N%","v":0.05},
{"p":111,"b":"N%","v":0.06},{"p":112,"b":"N%","v":0.05},{"p":113,"b":"N%","v":0.05},{"p":114,"b":"N%","v":0.06},{"p":115,"b":"N%","v":0.05},{"p":116,"b":"N%","v":0.05},{"p":117,"b":"N%","v":0.05},{"p":118,"b":"N%","v":0.05},{"p":119,"b":"N%","v":0.05},{"p":120,"b":"N%","v":0.05},
{"p":121,"b":"N%","v":0.05},{"p":122,"b":"N%","v":0.05},{"p":123,"b":"N%","v":0.06},{"p":124,"b":"N%","v":0.05},{"p":125,"b":"N%","v":0.06},
{"p":126,"b":"N%","v":0.07},{"p":127,"b":"N%","v":0.05},{"p":128,"b":"N%","v":0.05},{"p":129,"b":"N%","v":0.04},{"p":130,"b":"N%","v":0.04},{"p":131,"b":"N%","v":0.04},{"p":132,"b":"N%","v":0.03},{"p":133,"b":"N%","v":0.04},{"p":134,"b":"N%","v":0.04},{"p":135,"b":"N%","v":0.03},
{"p":136,"b":"N%","v":0.04},{"p":137,"b":"N%","v":0.03},{"p":138,"b":"N%","v":0.04},{"p":139,"b":"N%","v":0.04},{"p":140,"b":"N%","v":0.03},{"p":141,"b":"N%","v":0.04},{"p":142,"b":"N%","v":0.04},{"p":143,"b":"N%","v":0.04},{"p":144,"b":"N%","v":0.04},{"p":145,"b":"N%","v":0.04},
{"p":146,"b":"N%","v":0.04},{"p":147,"b":"N%","v":0.04},{"p":148,"b":"N%","v":0.04},{"p":149,"b":"N%","v":0.04},{"p":150,"b":"N%","v":0.04},{"p":151,"b":"N%","v":0.04},{"p":152,"b":"N%","v":0.04},{"p":153,"b":"N%","v":0.04},{"p":154,"b":"N%","v":0.04},{"p":155,"b":"N%","v":0.04},
{"p":156,"b":"N%","v":0.04},{"p":157,"b":"N%","v":0.04},{"p":158,"b":"N%","v":0.04},{"p":159,"b":"N%","v":0.04},{"p":160,"b":"N%","v":0.04},{"p":161,"b":"N%","v":0.04},{"p":162,"b":"N%","v":0.04},{"p":163,"b":"N%","v":0.04},{"p":164,"b":"N%","v":0.04},{"p":165,"b":"N%","v":0.05},
{"p":166,"b":"N%","v":0.04},{"p":167,"b":"N%","v":0.05},{"p":168,"b":"N%","v":0.05},{"p":169,"b":"N%","v":0.07},{"p":170,"b":"N%","v":0.05},{"p":171,"b":"N%","v":0.08},{"p":172,"b":"N%","v":0.05},{"p":173,"b":"N%","v":0.05},{"p":174,"b":"N%","v":0.05},{"p":175,"b":"N%","v":0.05},
{"p":176,"b":"N%","v":0.05},{"p":177,"b":"N%","v":0.05},{"p":178,"b":"N%","v":0.05},{"p":179,"b":"N%","v":0.05},{"p":180,"b":"N%","v":0.05},{"p":181,"b":"N%","v":0.05},{"p":182,"b":"N%","v":0.05},{"p":183,"b":"N%","v":0.05},{"p":184,"b":"N%","v":0.05},{"p":185,"b":"N%","v":0.05},
{"p":186,"b":"N%","v":0.05},{"p":187,"b":"N%","v":0.05},{"p":188,"b":"N%","v":0.05},{"p":189,"b":"N%","v":0.05},{"p":190,"b":"N%","v":0.05},{"p":191,"b":"N%","v":0.05},{"p":192,"b":"N%","v":0.05},{"p":193,"b":"N%","v":0.05},{"p":194,"b":"N%","v":0.05},{"p":195,"b":"N%","v":0.05},
{"p":196,"b":"N%","v":0.05},{"p":197,"b":"N%","v":0.05},{"p":198,"b":"N%","v":0.05},{"p":199,"b":"N%","v":0.05},{"p":200,"b":"N%","v":0.05},{"p":201,"b":"N%","v":0.05},{"p":202,"b":"N%","v":0.05},{"p":203,"b":"N%","v":0.05},{"p":204,"b":"N%","v":0.05},{"p":205,"b":"N%","v":0.05},
{"p":206,"b":"N%","v":0.05},{"p":207,"b":"N%","v":0.05},{"p":208,"b":"N%","v":0.05},{"p":209,"b":"N%","v":0.05},{"p":210,"b":"N%","v":0.05},{"p":211,"b":"N%","v":0.05},{"p":212,"b":"N%","v":0.05},{"p":213,"b":"N%","v":0.05},{"p":214,"b":"N%","v":0.05},{"p":215,"b":"N%","v":0.05},
{"p":216,"b":"N%","v":0.05},{"p":217,"b":"N%","v":0.05},{"p":218,"b":"N%","v":0.05},{"p":219,"b":"N%","v":0.05},{"p":220,"b":"N%","v":0.05},{"p":221,"b":"N%","v":0.05},{"p":222,"b":"N%","v":0.05},{"p":223,"b":"N%","v":0.05},{"p":224,"b":"N%","v":0.05},{"p":225,"b":"N%","v":0.06},
{"p":226,"b":"N%","v":0.05},{"p":227,"b":"N%","v":0.05},{"p":228,"b":"N%","v":0.06},{"p":229,"b":"N%","v":0.05},{"p":230,"b":"N%","v":0.05},{"p":231,"b":"N%","v":0.06},{"p":232,"b":"N%","v":0.05},{"p":233,"b":"N%","v":0.06},{"p":234,"b":"N%","v":0.06},{"p":235,"b":"N%","v":0.06},
{"p":236,"b":"N%","v":0.06},{"p":237,"b":"N%","v":0.07},{"p":238,"b":"N%","v":0.06},{"p":239,"b":"N%","v":0.06},{"p":240,"b":"N%","v":0.06},{"p":241,"b":"N%","v":0.06},{"p":242,"b":"N%","v":0.06},{"p":243,"b":"N%","v":0.06},{"p":244,"b":"N%","v":0.06},{"p":245,"b":"N%","v":0.06},
{"p":246,"b":"N%","v":0.07},{"p":247,"b":"N%","v":0.06},{"p":248,"b":"N%","v":0.07},{"p":249,"b":"N%","v":0.07},{"p":250,"b":"N%","v":0.08}
],
"split":[{"x":125.5}]},
"layer":[
{"data":{"name":"bases"},"mark":{"type":"line","strokeWidth":1.3},
"encoding":{
"x":{"field":"p","type":"quantitative","scale":{"domain":[-8.5,255.5],"nice":false,"zero":false},"axis":{"title":"Position","values":[0,10,20,30,40,50,60,70,80,90,100,110,120,130,140,150,160,170,180,190,200,210,220,230,240,250],"labelFlush":false,"labelOverlap":false,"labelBound":false,"labelSeparation":0,"tickCount":26,"titlePadding":3}},
"y":{"field":"v","type":"quantitative","scale":{"domain":[-2.7,72.8],"nice":false,"zero":false},"axis":{"title":"Percent(%)","values":[0,10,20,30,40,50,60,70],"titlePadding":3}},
"color":{"field":"b","type":"nominal","sort":["A%","T%","C%","G%","N%"],"scale":{"domain":["A%","T%","C%","G%","N%"],"range":["#ff0000","#0000ff","#00ff00","#800080","#008080"]},
"legend":{"title":null,"orient":"none","legendX":401,"legendY":42,"symbolType":"stroke","symbolSize":324,"symbolStrokeWidth":1,"symbolOpacity":0.75,"labelFontSize":9.5,"labelColor":"#000","labelOffset":9,"rowPadding":0,"clipHeight":11.7}}}},
{"data":{"name":"bases"},"mark":{"type":"point","filled":true,"size":20,"opacity":1},
"encoding":{
"x":{"field":"p","type":"quantitative","axis":{"labelOverlap":false}},
"y":{"field":"v","type":"quantitative"},
"color":{"field":"b","type":"nominal"}}},
{"data":{"name":"split"},"mark":{"type":"rule","color":"#555","strokeDash":[3,2],"strokeWidth":1},
"encoding":{"x":{"field":"x","type":"quantitative"}}}
]
}
